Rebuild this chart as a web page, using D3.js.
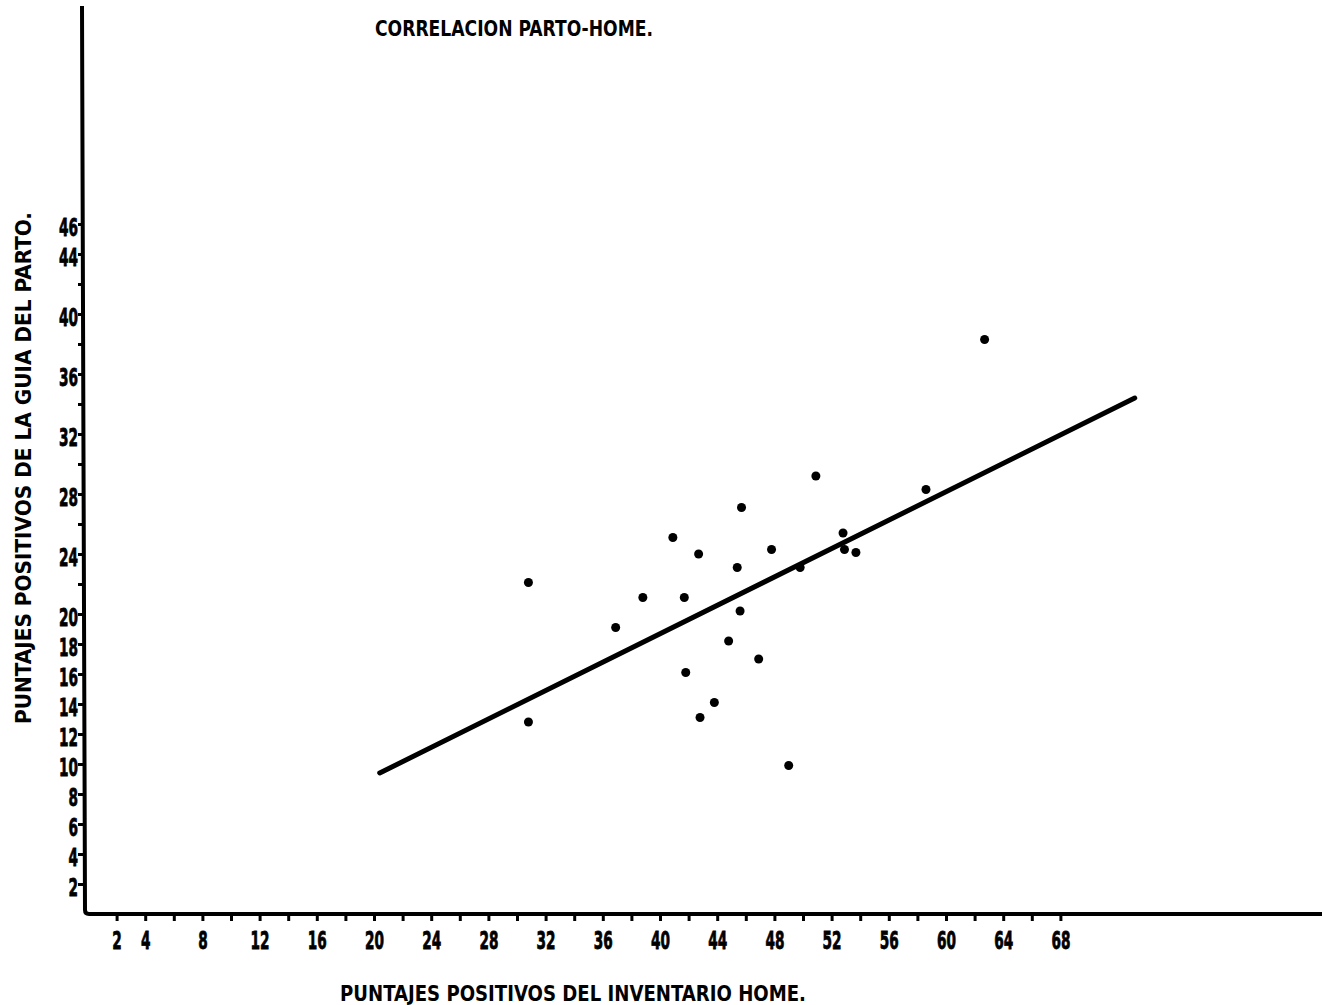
<!DOCTYPE html>
<html>
<head>
<meta charset="utf-8">
<script src="https://cdn.jsdelivr.net/npm/d3@7"></script>
<style>
  html, body { margin: 0; padding: 0; background: #fff; }
  svg { display: block; }
  text { font-family: "DejaVu Sans Condensed", "DejaVu Sans", sans-serif; font-weight: bold; fill: #000; }
</style>
</head>
<body>
<div id="chart"></div>
<script>
// Data
const homeScores  = [30.8, 30.8, 36.9, 38.8, 40.9, 41.7, 41.8, 42.7, 42.8, 43.8, 44.8, 45.4,
                     45.7, 45.6, 46.9, 47.8, 49.0, 49.8, 50.9, 52.8, 52.9, 53.7, 58.6, 62.7];
const partoScores = [22.1, 12.8, 19.1, 21.1, 25.1, 21.1, 16.1, 24.0, 13.1, 14.1, 18.2, 23.1,
                     27.1, 20.2, 17.0, 24.3, 9.9, 23.1, 29.2, 25.4, 24.3, 24.1, 28.3, 38.3];
// regression line end points
const lineX = [20.4, 73.2];
const lineY = [9.4, 34.4];

const xTicks = d3.range(2, 69, 2);
const xTickLabels = [2, 4, 8, 12, 16, 20, 24, 28, 32, 36, 40, 44, 48, 52, 56, 60, 64, 68];
const yTicks = d3.range(2, 47, 2);
const yTickLabels = [2, 4, 6, 8, 10, 12, 14, 16, 18, 20, 24, 28, 32, 36, 40, 44, 46];

const title  = "CORRELACION PARTO-HOME.";
const xTitle = "PUNTAJES POSITIVOS DEL INVENTARIO HOME.";
const yTitle = "PUNTAJES POSITIVOS DE LA GUIA DEL PARTO.";

const W = 1322, H = 1005;

const svg = d3.select("#chart").append("svg")
  .attr("width", W)
  .attr("height", H);

svg.append("rect").attr("width", W).attr("height", H).attr("fill", "#fff");

// scales
const x = d3.scaleLinear().domain([0, 68]).range([88, 1060.4]);
const y = d3.scaleLinear().domain([0, 46]).range([914, 224]);

// axis frame
svg.append("path")
  .attr("d", `M82,6 L85,910 Q85,914 89,914 L${W},914`)
  .attr("fill", "none")
  .attr("stroke", "#000")
  .attr("stroke-width", 4);

// narrow tall heavy digits like the typewriter ones
function squeeze(sel) {
  sel.each(function() {
    const t = d3.select(this);
    const n = t.text().length;
    if (n) t.attr("textLength", n * 9.5).attr("lengthAdjust", "spacingAndGlyphs");
  }).attr("stroke", "#000").attr("stroke-width", 0.8);
}

// x axis ticks + labels
const xAxis = svg.append("g")
  .attr("transform", "translate(0,914)")
  .call(d3.axisBottom(x)
    .tickValues(xTicks)
    .tickSize(7)
    .tickPadding(10)
    .tickFormat(d => xTickLabels.includes(d) ? d : ""));
xAxis.select(".domain").remove();
xAxis.selectAll(".tick line").attr("stroke", "#000").attr("stroke-width", 3);
xAxis.selectAll(".tick text")
  .style("font-size", "25px")
  .attr("fill", "#000")
  .call(squeeze);

// y axis ticks + labels
const yAxis = svg.append("g")
  .attr("transform", "translate(84,0)")
  .call(d3.axisLeft(y)
    .tickValues(yTicks)
    .tickSize(6)
    .tickPadding(0)
    .tickFormat(d => yTickLabels.includes(d) ? d : ""));
yAxis.select(".domain").remove();
yAxis.selectAll(".tick line").attr("stroke", "#000").attr("stroke-width", 3);
yAxis.selectAll(".tick text")
  .style("font-size", "25px")
  .attr("dy", "0.45em")
  .attr("fill", "#000")
  .call(squeeze);

// regression line
svg.append("line")
  .attr("x1", x(lineX[0])).attr("y1", y(lineY[0]))
  .attr("x2", x(lineX[1])).attr("y2", y(lineY[1]))
  .attr("stroke", "#000")
  .attr("stroke-width", 5)
  .attr("stroke-linecap", "round");

// points
svg.append("g").selectAll("circle")
  .data(homeScores.map((h, i) => [h, partoScores[i]]))
  .enter().append("circle")
  .attr("cx", d => x(d[0]))
  .attr("cy", d => y(d[1]))
  .attr("r", 4.5)
  .attr("fill", "#000");

// titles
svg.append("text")
  .attr("x", 375).attr("y", 36)
  .attr("textLength", 278)
  .attr("lengthAdjust", "spacingAndGlyphs")
  .style("font-size", "22px")
  .text(title);

svg.append("text")
  .attr("x", 340).attr("y", 1001)
  .attr("textLength", 466)
  .attr("lengthAdjust", "spacingAndGlyphs")
  .style("font-size", "22px")
  .text(xTitle);

svg.append("text")
  .attr("transform", "translate(31,724) rotate(-90)")
  .attr("textLength", 512)
  .attr("lengthAdjust", "spacingAndGlyphs")
  .style("font-size", "22px")
  .text(yTitle);
</script>
</body>
</html>
